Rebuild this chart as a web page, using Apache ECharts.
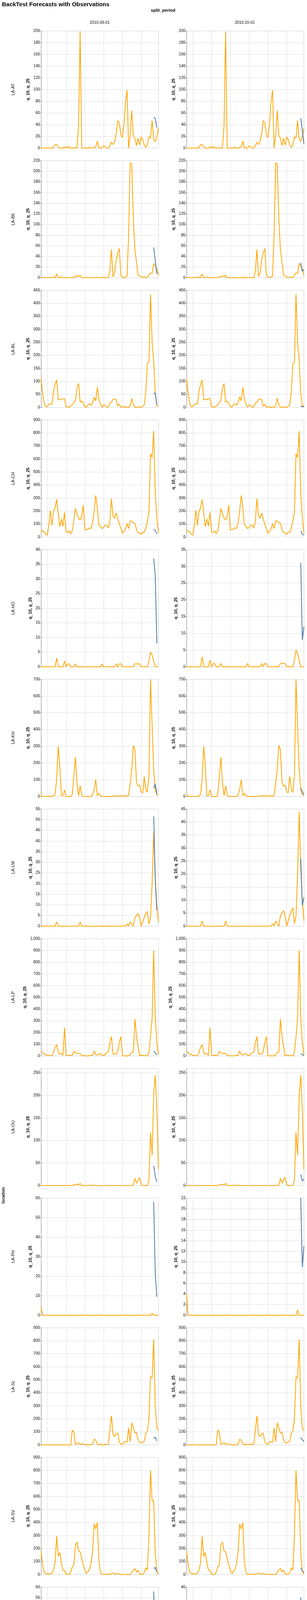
<!DOCTYPE html>
<html><head><meta charset="utf-8">
<script src="https://cdn.jsdelivr.net/npm/echarts@6/dist/echarts.min.js"></script>
<style>html,body{margin:0;padding:0;background:#fff}#c{width:785px;height:6066px}</style>
</head><body><div id="c"></div>
<script>
const locations = ['LA-AT','LA-BK','LA-BL','LA-CH','LA-HO','LA-KH','LA-LM','LA-LP','LA-OU','LA-PH','LA-SL','LA-SV','LA-VI','LA-VT','LA-XA','LA-XE','LA-XI','LA-XN'];
const splitPeriods = ['2010-09-01','2010-10-01'];
// monthly observations, 2004-09 .. 2010-12
const obsAT=[0,0,0,0,0,0,0,0,1,6,6,2,0,0,0,2,0,3,0,0,0,0,1,0,40,199,0,0,0,0,0,2,0,0,1,2,12,0,0,0,4,2,0,0,4,10,6,11,24,47,43,23,18,42,77,99,0,23,64,21,17,4,17,5,19,14,5,1,6,19,17,47,15,11,19,34];
const obsBK=[0,1,0,0,0,1,0,1,1,0,7,0,0,2,0,0,0,0,0,0,0,2,1,4,2,5,0,0,0,0,0,0,0,0,0,0,1,0,0,0,1,0,0,0,12,53,2,9,33,47,55,5,1,0,1,3,80,216,212,110,52,30,5,4,1,1,2,0,1,5,9,8,27,22,17,4];
const obsBL=[110,55,15,2,4,12,13,13,63,88,106,30,31,29,34,34,3,2,1,5,10,18,28,73,92,20,25,17,2,1,10,14,8,18,40,25,78,30,12,1,10,7,1,3,16,20,31,32,30,5,12,1,2,3,0,2,0,7,35,10,0,1,2,1,0,5,10,60,170,173,435,250,180,55,6,6];
const obsCH=[40,50,40,22,15,100,205,90,195,225,290,185,80,140,85,190,38,37,48,25,50,130,220,180,145,130,160,245,55,60,58,72,65,110,200,320,220,95,82,65,75,90,92,70,115,295,165,145,185,140,100,70,30,45,60,105,65,125,122,110,105,60,35,32,20,40,35,70,120,195,640,610,815,340,150,30];
const obsHO=[0,0,0,0,0,0,0,0,0,0,3,0,0,0,0,2,0,1,1,0,0,0,1,0,0,0,0,0,0,0,0,0,0,0,0,0,0,0,0,1,0,0,0,0,0,0,0,0,1,0,1,1,0,0,0,0,0,0,0,0,1,1,1,1,0,0,0,0,0,2,5,4,2,0,0,0];
const obsKH=[12,0,0,0,0,2,0,2,3,12,100,300,180,5,5,40,0,0,0,0,12,120,235,80,5,65,10,0,0,0,0,0,0,10,40,100,5,18,5,0,0,0,0,0,0,0,2,4,1,5,2,3,4,0,7,0,8,80,160,305,280,85,62,68,28,22,120,40,25,130,700,420,160,40,10,8];
const obsLM=[0,0,0,0,0,0,0,0,0,0,2,0,0,0,0,0,0,0,0,0,0,0,0,0,0,2,0,0,0,0,0,0,0,0,0,0,0,0,0,0,0,0,0,0,0,0,0,0,0,0,0,0,0,0,0,1,0,2,1,0,4,5,6,4,0,2,4,6,7,1,4,20,44,22,10,2];
const obsLP=[40,30,10,15,2,3,2,3,25,75,95,30,15,20,5,240,5,3,5,4,5,38,30,20,22,20,3,2,0,0,0,2,5,5,42,12,8,15,18,5,0,15,25,35,110,165,15,15,15,35,115,165,0,0,0,0,0,10,30,32,315,170,80,0,8,3,2,2,2,30,160,320,900,340,110,10];
const obsOU=[0,0,0,0,0,0,0,0,0,0,0,0,0,0,0,0,0,0,0,0,0,2,2,3,1,5,0,0,0,0,0,1,0,1,0,0,0,0,0,0,0,0,0,0,0,0,0,0,0,0,0,0,0,0,0,0,0,0,0,2,16,5,12,18,2,0,0,0,0,12,118,67,200,245,170,36];
const obsPH=[4,0,0,0,0,0,0,0,0,0,0,0,0,0,0,0,0,0,0,0,0,0,0,0,0,0,0,0,0,0,0,0,0,0,0,0,0,0,0,0,0,0,0,0,0,0,0,0,0,0,0,0,0,0,0,0,0,0,0,0,0,0,0,0,0,0,0,0,0,0,0,1,0,0,0,0];
const obsSL=[0,0,0,0,0,0,0,0,0,0,0,0,1,0,0,2,0,0,0,0,115,95,5,8,18,2,10,5,5,0,0,0,2,5,45,35,8,0,8,0,2,6,3,5,110,225,80,65,85,92,22,8,2,25,25,20,130,25,170,130,92,95,40,18,15,22,28,90,105,205,525,515,810,300,130,110];
const obsSV=[180,80,20,8,5,5,5,10,35,90,295,140,170,90,35,32,3,2,2,18,60,75,225,250,180,175,120,75,35,8,22,40,85,180,390,350,400,100,15,2,2,2,2,2,2,10,12,5,3,10,3,2,1,1,1,1,1,2,15,35,48,18,35,5,2,2,15,52,35,310,800,565,570,160,25,3];
const obsVI=[];
const obsVT=[230,110,60,35,10,20,30,40,50,120,165,120,120,170,75,35,25,25,15,30,120,320,565,480,360,450,270,270,55,40,50,25,25,80,240,255,320,250,140,100,35,15,30,10,25,65,135,150,160,100,130,90,40,25,25,40,60,110,310,360,470,530,525,360,130,190,120,150,230,380,1450,1940,1720,1000,300,70];
const obsXA=[0,0,1,0,0,0,3,14,345,90,112,104,5,7,0,145,2,40,7,1,0,1,110,2,3,0,0,0,0,0,0,1,1,8,70,40,73,2,0,1,0,0,0,0,2,6,20,5,1,3,2,1,0,0,0,0,2,15,12,38,12,5,5,0,0,0,0,2,0,20,45,40,41,18,0,4];
const obsXE=[0,2,0,0,0,0,0,0,0,3,0,1,2,1,0,0,3,0,0,0,0,0,0,0,5,0,0,1,0,0,0,0,0,2,1,0,1,1,1,1,0,0,0,0,0,5,0,0,1,0,0,1,0,2,2,1,2,9,29,27,6,7,3,7,4,0,3,13,14,35,70,43,114,32,12,6];
const obsXI=[0,0,0,0,0,0,0,0,0,0,0,0,0,0,0,0,0,0,0,0,0,0,2,0,0,0,0,0,0,0,0,0,0,0,0,0,0,0,0,0,0,0,0,0,0,1,0,0,0,0,0,0,0,0,0,0,39,33,1,10,0,0,0,0,0,0,0,0,0,0,10,28,34,5,2,2];
const obsXN=[0,0,0,0,0,0,0,0,0,0,0,0,0,0,0,32];
// forecasts (q_10): left panel Sep-Nov 2010, right panel Oct-Dec 2010
const fcLeft=[[52,51,35],[57,32,7],[52,56,10],[58,50,25],[37,31,8],[50,75,15],[51.5,22,7.5],[42,25,10],[44,20,8],[58,21,9.5],[50,60,30],[47,55,20],[58,33,6.5],[65,40,10],[51,30,8],[49,60,52],[45,33,7],[56,30,7]];
const fcRight=[[51,30,7],[28,12,15],[5,3,3],[45,25,15],[31,8,12],[50,30,10],[26,8,11],[20,10,5],[25,10,15],[22,9,13],[55,40,25],[50,30,15],[37,7,12],[40,20,10],[35,12,18],[58,52,12],[33,7,10],[33.5,7,10.7]];
// y axis scales [min, max, interval]
const yLeft=[[0,200,20],[0,220,20],[0,450,50],[0,900,100],[0,40,5],[0,700,100],[0,55,5],[0,1000,100],[0,260,50],[0,60,10],[0,900,100],[0,900,100],[5,60,5],[0,2000,200],[0,350,50],[0,120,20],[0,40,5],[0,60,10]];
const yRight=[[0,200,20],[0,220,20],[0,450,50],[0,900,100],[0,35,5],[0,700,100],[0,45,5],[0,1000,100],[0,260,50],[0,22,2],[0,900,100],[0,900,100],[5,40,5],[0,2000,200],[0,350,50],[0,120,20],[0,40,5],[0,35,5]];

const obsList=[obsAT,obsBK,obsBL,obsCH,obsHO,obsKH,obsLM,obsLP,obsOU,obsPH,obsSL,obsSV,obsVI,obsVT,obsXA,obsXE,obsXI,obsXN];
const mt = i => Date.UTC(2004, 8+i, 1);
const xMin = mt(0), xMax = mt(75);
const grids=[], xAxes=[], yAxes=[], series=[], graphics=[];
const font='Liberation Sans, Arial, sans-serif';
const N=locations.length;
for(let r=0;r<N;r++){
  const top=79+332*r;
  for(let c=0;c<2;c++){
    const k=grids.length;
    const left = c===0?105:477;
    grids.push({left:left, top:top, width:300, height:300, show:true, borderColor:'#ddd', borderWidth:1});
    const bottom = r===N-1;
    xAxes.push({type:'time', gridIndex:k, min:xMin, max:xMax, minInterval:365*24*3600*1000,
      splitNumber:6,
      axisLine:{show:bottom, onZero:false, lineStyle:{color:'#888'}}, offset: bottom?6:0,
      axisTick:{show:bottom, lineStyle:{color:'#888'}},
      axisLabel:{show:bottom, formatter:'{yyyy}', color:'#000', fontFamily:font, fontSize:10, hideOverlap:false, showMinLabel:false, showMaxLabel:false},
      splitLine:{show:true, lineStyle:{color:'#ddd'}},
      name: bottom?'time_period':'', nameLocation:'middle', nameGap:22,
      nameTextStyle:{fontWeight:'bold', fontSize:11, color:'#000', fontFamily:font}});
    const ys = c===0?yLeft[r]:yRight[r];
    yAxes.push({type:'value', gridIndex:k, min:ys[0], max:ys[1], interval:ys[2],
      axisLine:{show:true, lineStyle:{color:'#888'}}, axisTick:{show:true, length:5, lineStyle:{color:'#888'}},
      axisLabel:{color:'#000', fontFamily:font, fontSize:10, margin:3, showMaxLabel: ys[1]%ys[2]===0,
        formatter:v=>v.toLocaleString('en-US')},
      splitLine:{show:true, lineStyle:{color:'#ddd'}},
      name:'q_10, q_25', nameLocation:'middle', nameGap: ys[1]>=1000?36:(ys[1]>=100?28:22),
      nameTextStyle:{fontWeight:'bold', fontSize:11, color:'#000', fontFamily:font}});
    const obs=obsList[r].map((v,i)=>[mt(i),v]);
    series.push({type:'line', xAxisIndex:k, yAxisIndex:k, data:obs, showSymbol:false, symbol:'none',
      lineStyle:{color:'#ffa500', width:2}, itemStyle:{color:'#ffa500'}, animation:false, z:2});
    const fc = c===0?fcLeft[r]:fcRight[r];
    const off = c===0?72:73;
    series.push({type:'line', xAxisIndex:k, yAxisIndex:k, data:fc.map((v,i)=>[mt(off+i),v]), showSymbol:false, symbol:'none',
      lineStyle:{color:'#4c78a8', width:2}, itemStyle:{color:'#4c78a8'}, animation:false, z:3});
  }
  graphics.push({type:'text', rotation:Math.PI/2, x:34, y:top+150,
    style:{text:locations[r], font:'11px '+font, fill:'#000', align:'center', verticalAlign:'middle'}});
}
graphics.push({type:'text', x:5, y:4, style:{text:'BackTest Forecasts with Observations', font:'bold 15px '+font, fill:'#000'}});
graphics.push({type:'text', x:417, y:27, style:{text:'split_period', font:'bold 11px '+font, fill:'#000', align:'center', verticalAlign:'middle'}});
graphics.push({type:'text', x:255, y:58, style:{text:splitPeriods[0], font:'10px '+font, fill:'#000', align:'center', verticalAlign:'middle'}});
graphics.push({type:'text', x:626, y:58, style:{text:splitPeriods[1], font:'10px '+font, fill:'#000', align:'center', verticalAlign:'middle'}});
graphics.push({type:'text', rotation:Math.PI/2, x:9, y:3060, style:{text:'location', font:'bold 11px '+font, fill:'#000', align:'center', verticalAlign:'middle'}});

const chart=echarts.init(document.getElementById('c'),null,{renderer:'canvas'});
chart.setOption({animation:false, grid:grids, xAxis:xAxes, yAxis:yAxes, series:series, graphic:graphics});
</script></body></html>
